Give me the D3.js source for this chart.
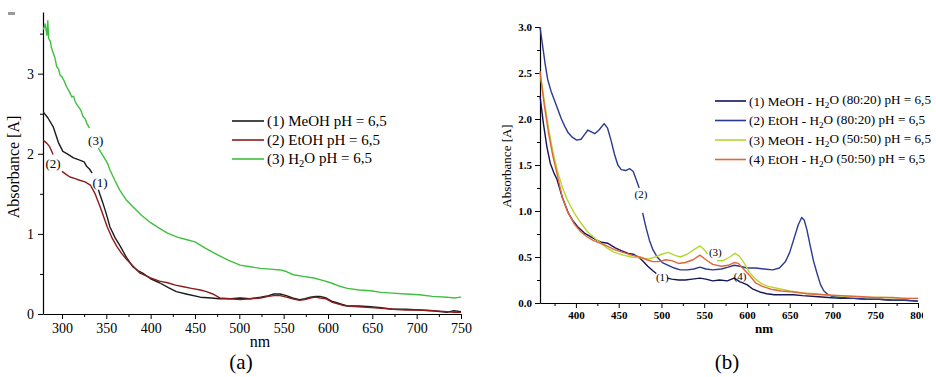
<!DOCTYPE html>
<html>
<head>
<meta charset="utf-8">
<script src="https://cdn.jsdelivr.net/npm/d3@7"></script>
<style>
  body { margin: 0; background: #fff; }
  svg text { font-family: "Liberation Serif", "Times New Roman", Times, serif !important; fill: #000; }
  .axis path, .axis line { stroke: #000; }
</style>
</head>
<body>
<svg id="chart" width="936" height="377"></svg>
<script>
// ---- panel (a) data ----
const nmA1 = [279, 284, 290, 296, 301, 306, 313, 320, 325, 328, 331, 334, null, 341, 346, 350, 354, 360, 366, 373, 380, 386, 391, 400, 410, 420, 429, 440, 456, 468, 478, 490, 501, 512, 524, 533, 539, 546, 553, 560, 568, 574, 580, 586, 591, 598, 604, 610, 616, 622, 635, 648, 660, 673, 688, 703, 718, 734, 742, 750];
const absA1 = [2.52, 2.45, 2.34, 2.14, 2.03, 2.0, 1.95, 1.92, 1.9, 1.84, 1.81, 1.76, null, 1.55, 1.39, 1.25, 1.09, 0.95, 0.84, 0.7, 0.59, 0.54, 0.51, 0.44, 0.39, 0.33, 0.28, 0.25, 0.21, 0.2, 0.19, 0.19, 0.2, 0.19, 0.21, 0.23, 0.25, 0.25, 0.23, 0.2, 0.18, 0.19, 0.21, 0.22, 0.22, 0.2, 0.16, 0.14, 0.12, 0.1, 0.1, 0.09, 0.08, 0.06, 0.06, 0.05, 0.04, 0.02, 0.04, 0.03];

const nmA2 = [279, 283, 286, 290, null, 300, 305, 309, 315, 320, 326, 332, 337, 343, 351, 356, 362, 367, 373, 380, 388, 400, 410, 419, 428, 437, 446, 456, 463, 470, 478, 490, 501, 512, 524, 533, 539, 546, 553, 560, 568, 574, 580, 586, 591, 598, 604, 610, 616, 622, 635, 648, 660, 673, 688, 703, 718, 734, 742, 750];
const absA2 = [2.17, 2.13, 2.09, 1.99, null, 1.78, 1.74, 1.71, 1.69, 1.67, 1.65, 1.61, 1.51, 1.34, 1.09, 0.96, 0.84, 0.76, 0.68, 0.6, 0.51, 0.45, 0.41, 0.39, 0.36, 0.34, 0.32, 0.3, 0.28, 0.25, 0.2, 0.19, 0.18, 0.19, 0.2, 0.22, 0.23, 0.23, 0.21, 0.19, 0.17, 0.18, 0.2, 0.21, 0.2, 0.19, 0.15, 0.13, 0.11, 0.1, 0.09, 0.08, 0.07, 0.06, 0.05, 0.05, 0.04, 0.03, 0.02, 0.02];

const nmA3 = [279, 281, 283, 284, 285, 287, 288, 290, 292, 294, 296, 298, 300, 302, 305, 307, 309, 311, 313, 315, 317, 319, 321, 324, 326, 328, 331, null, 341, 346, 351, 354, 360, 365, 372, 380, 390, 400, 410, 419, 430, 440, 450, 462, 475, 488, 501, 512, 524, 535, 546, 553, 561, 572, 584, 594, 603, 612, 622, 635, 648, 660, 673, 688, 703, 718, 734, 742, 750];
const absA3 = [3.55, 3.62, 3.48, 3.66, 3.44, 3.4, 3.33, 3.26, 3.2, 3.09, 3.06, 2.98, 2.96, 2.92, 2.84, 2.8, 2.76, 2.71, 2.72, 2.65, 2.61, 2.58, 2.55, 2.46, 2.44, 2.38, 2.32, null, 2.07, 1.98, 1.89, 1.8, 1.66, 1.55, 1.43, 1.34, 1.23, 1.14, 1.07, 1.01, 0.96, 0.93, 0.9, 0.82, 0.74, 0.67, 0.61, 0.59, 0.57, 0.56, 0.55, 0.53, 0.49, 0.47, 0.45, 0.42, 0.39, 0.35, 0.32, 0.3, 0.29, 0.27, 0.26, 0.25, 0.24, 0.22, 0.21, 0.2, 0.21];

const seriesA = ['(1) MeOH pH = 6,5', '(2) EtOH pH = 6,5', '(3) H|2|O pH = 6,5'];
const colorsA = ['#1c1c1c', '#8c1c1c', '#3fbf3f'];
const tagsA = ['(1)', '(2)', '(3)'];
const tagNmA = [343, 290, 338];
const tagAbsA = [1.64, 1.875, 2.17];
const xTicksA = [300, 350, 400, 450, 500, 550, 600, 650, 700, 750];
const xMinorA = [325, 375, 425, 475, 525, 575, 625, 675, 725];
const yTicksA = [0, 1, 2, 3];
const yMinorA = [0.5, 1.5, 2.5, 3.5];

// ---- panel (b) data ----
const nmB1 = [358, 362, 366, 370, 374, 378, 384, 391, 396, 402, 410, 419, 425, 430, 437, 446, 453, 461, 467, 473, 478, 484, 490, 494, null, 507, 512, 520, 528, 536, 545, 552, 560, 568, 577, 585, 592, 600, 607, 615, 623, 632, 640, 654, 665, 680, 695, 710, 725, 740, 755, 770, 785, 800];
const absB1 = [2.25, 1.95, 1.7, 1.52, 1.42, 1.34, 1.15, 0.98, 0.9, 0.83, 0.76, 0.71, 0.68, 0.66, 0.65, 0.6, 0.57, 0.54, 0.53, 0.5, 0.46, 0.4, 0.35, 0.32, null, 0.27, 0.26, 0.25, 0.25, 0.26, 0.27, 0.26, 0.24, 0.25, 0.24, 0.27, 0.23, 0.2, 0.15, 0.12, 0.1, 0.09, 0.09, 0.09, 0.08, 0.07, 0.06, 0.05, 0.05, 0.04, 0.04, 0.03, 0.03, 0.02];

const nmB2 = [358, 361, 364, 367, 371, 375, 379, 383, 387, 391, 396, 401, 406, 410, 414, 418, 422, 427, 433, 437, 441, 445, 449, 453, 458, 463, 467, 471, 474, null, 478, 482, 486, 490, 495, 501, 508, 515, 522, 530, 538, 545, 552, 560, 570, 578, 585, 592, 600, 610, 620, 630, 638, 645, 650, 655, 660, 664, 667, 670, 674, 678, 682, 686, 690, 695, 700, 710, 725, 740, 755, 770, 785, 800];
const absB2 = [3.0, 2.8, 2.6, 2.43, 2.3, 2.2, 2.1, 2.0, 1.92, 1.85, 1.8, 1.77, 1.78, 1.83, 1.88, 1.86, 1.84, 1.88, 1.95, 1.9, 1.77, 1.62, 1.5, 1.45, 1.44, 1.46, 1.43, 1.33, 1.25, null, 0.98, 0.82, 0.68, 0.58, 0.5, 0.44, 0.41, 0.38, 0.36, 0.36, 0.37, 0.39, 0.37, 0.36, 0.37, 0.39, 0.41, 0.4, 0.38, 0.38, 0.37, 0.36, 0.38, 0.45, 0.55, 0.7, 0.85, 0.93, 0.9, 0.8, 0.62, 0.45, 0.32, 0.2, 0.13, 0.09, 0.07, 0.06, 0.05, 0.04, 0.04, 0.03, 0.03, 0.02];

const nmB3 = [358, 363, 368, 373, 378, 384, 390, 398, 405, 413, 420, 428, 436, 445, 455, 465, 475, 485, 493, 500, 508, 515, 522, 530, 538, 545, 550, 554, null, 565, 572, 580, 586, 591, 597, 603, 610, 617, 625, 635, 650, 665, 680, 700, 720, 740, 760, 780, 800];
const absB3 = [2.5, 2.2, 1.9, 1.65, 1.45, 1.26, 1.12, 0.98, 0.88, 0.78, 0.72, 0.66, 0.6, 0.55, 0.52, 0.5, 0.49, 0.48, 0.5, 0.53, 0.55, 0.52, 0.5, 0.53, 0.58, 0.62, 0.58, 0.53, null, 0.46, 0.46, 0.5, 0.54, 0.51, 0.43, 0.33, 0.26, 0.21, 0.18, 0.16, 0.13, 0.11, 0.1, 0.08, 0.07, 0.06, 0.06, 0.05, 0.05];

const nmB4 = [358, 363, 368, 373, 378, 384, 390, 398, 405, 413, 420, 428, 436, 445, 455, 465, 475, 483, 490, 497, 505, 512, 520, 528, 537, 545, 552, 560, 570, 578, 585, 590, 596, 603, 610, 618, 628, 640, 655, 670, 690, 710, 730, 750, 770, 785, 800];
const absB4 = [2.52, 2.15, 1.85, 1.6, 1.4, 1.15, 1.0, 0.86, 0.78, 0.72, 0.68, 0.65, 0.62, 0.58, 0.55, 0.52, 0.5, 0.47, 0.45, 0.45, 0.47, 0.46, 0.43, 0.44, 0.47, 0.52, 0.47, 0.42, 0.4, 0.41, 0.44, 0.43, 0.37, 0.3, 0.22, 0.18, 0.15, 0.13, 0.12, 0.1, 0.09, 0.08, 0.07, 0.06, 0.06, 0.05, 0.05];

const seriesB = ['(1) MeOH - H|2|O (80:20) pH = 6,5', '(2) EtOH - H|2|O (80:20) pH = 6,5', '(3) MeOH - H|2|O (50:50) pH = 6,5', '(4) EtOH - H|2|O (50:50) pH = 6,5'];
const colorsB = ['#15155a', '#2a3a92', '#b6d632', '#e2663a'];
const tagsB = ['(1)', '(2)', '(3)', '(4)'];
const tagNmB = [501, 476, 563, 592];
const tagAbsB = [0.28, 1.18, 0.55, 0.29];
const xTicksB = [400, 450, 500, 550, 600, 650, 700, 750, 800];
const xMinorB = [375, 425, 475, 525, 575, 625, 675, 725, 775];
const yTicksB = [0, 0.5, 1, 1.5, 2, 2.5, 3];
const yMinorB = [0.25, 0.75, 1.25, 1.75, 2.25, 2.75];

const svg = d3.select('#chart');

function toPoints(nm, abs) {
  return nm.map((d, i) => ({ x: d, y: abs[i] }));
}

// writes "H|2|O" style text with subscript
function richText(sel, str) {
  str.split('|').forEach((part, i) => {
    const t = sel.append('tspan').text(part);
    if (i % 2 === 1) t.attr('font-size', '0.7em').attr('dy', '0.3em');
    else if (i > 0) t.attr('dy', '-0.3em');
  });
}

function drawPanel(cfg) {
  const g = svg.append('g');

  const line = d3.line()
    .defined(d => d.y !== null)
    .x(d => cfg.x(d.x))
    .y(d => cfg.y(d.y));

  // x axis
  const xAxis = g.append('g')
    .attr('class', 'axis')
    .attr('transform', `translate(0,${cfg.y(0)})`)
    .call(d3.axisBottom(cfg.x).tickValues(cfg.xTicks).tickSize(5).tickSizeOuter(0).tickPadding(cfg.tickPad).tickFormat(d3.format('d')));
  g.append('g')
    .attr('class', 'axis')
    .attr('transform', `translate(0,${cfg.y(0)})`)
    .call(d3.axisBottom(cfg.x).tickValues(cfg.xMinor).tickSize(3).tickSizeOuter(0).tickFormat(''))
    .select('.domain').remove();

  // y axis
  g.append('g')
    .attr('class', 'axis')
    .attr('transform', `translate(${cfg.x.range()[0]},0)`)
    .call(d3.axisLeft(cfg.y).tickValues(cfg.yTicks).tickSize(5).tickSizeOuter(0).tickPadding(cfg.tickPad).tickFormat(d3.format(cfg.yFmt)));
  g.append('g')
    .attr('class', 'axis')
    .attr('transform', `translate(${cfg.x.range()[0]},0)`)
    .call(d3.axisLeft(cfg.y).tickValues(cfg.yMinor).tickSize(3).tickSizeOuter(0).tickFormat(''))
    .select('.domain').remove();

  g.selectAll('.axis text')
    .attr('font-size', cfg.tickFont)
    .attr('font-weight', cfg.tickWeight);
  g.selectAll('.axis path.domain').attr('stroke-width', 1.2);

  if (cfg.clipRight) {
    svg.append('clipPath').attr('id', 'clipB')
      .append('rect').attr('x', 0).attr('y', 0).attr('width', cfg.clipRight).attr('height', 377);
    xAxis.attr('clip-path', 'url(#clipB)');
  }

  // curves
  cfg.data.forEach((pts, i) => {
    g.append('path')
      .datum(pts)
      .attr('fill', 'none')
      .attr('stroke', cfg.colors[i])
      .attr('stroke-width', 1.4)
      .attr('stroke-linejoin', 'round')
      .attr('d', line);
  });

  // curve tags
  cfg.tags.forEach((t, i) => {
    g.append('text')
      .attr('x', cfg.x(cfg.tagNm[i]))
      .attr('y', cfg.y(cfg.tagAbs[i]))
      .attr('dy', '0.35em')
      .attr('text-anchor', 'middle')
      .attr('font-size', cfg.tagFont)
      .text(t);
  });

  // axis titles
  g.append('text')
    .attr('transform', `translate(${cfg.yTitle[0]},${cfg.yTitle[1]}) rotate(-90)`)
    .attr('text-anchor', 'middle')
    .attr('font-size', cfg.titleFont)
    .text('Absorbance [A]');
  g.append('text')
    .attr('x', cfg.xTitle[0])
    .attr('y', cfg.xTitle[1])
    .attr('text-anchor', 'middle')
    .attr('font-size', cfg.titleFont)
    .attr('font-weight', cfg.tickWeight)
    .text('nm');
  g.append('text')
    .attr('x', cfg.panel[0])
    .attr('y', cfg.panel[1])
    .attr('text-anchor', 'middle')
    .attr('font-size', 21)
    .text(cfg.panelName);

  // legend
  const legend = g.append('g')
    .attr('transform', `translate(${cfg.legend[0]},${cfg.legend[1]})`);
  cfg.names.forEach((name, i) => {
    const row = legend.append('g').attr('transform', `translate(0,${i * cfg.legendStep})`);
    row.append('line')
      .attr('x1', 0).attr('x2', cfg.legendLine)
      .attr('y1', 0).attr('y2', 0)
      .attr('stroke', cfg.colors[i])
      .attr('stroke-width', 1.6);
    const txt = row.append('text')
      .attr('x', cfg.legendLine + 3)
      .attr('y', 0)
      .attr('dy', '0.35em')
      .attr('font-size', cfg.legendFont);
    richText(txt, name);
  });
}

drawPanel({
  x: d3.scaleLinear().domain([278.6, 750]).range([43, 461]),
  y: d3.scaleLinear().domain([0, 3.77]).range([314, 12]),
  xTicks: xTicksA, xMinor: xMinorA, yTicks: yTicksA, yMinor: yMinorA,
  yFmt: 'd', tickFont: 14, tickWeight: 'normal', tickPad: 4,
  data: [toPoints(nmA1, absA1), toPoints(nmA2, absA2), toPoints(nmA3, absA3)],
  colors: colorsA, names: seriesA,
  tags: tagsA, tagNm: tagNmA, tagAbs: tagAbsA, tagFont: 13,
  yTitle: [19, 167], xTitle: [260, 347], titleFont: 16,
  panel: [241, 369], panelName: '(a)',
  legend: [232, 121], legendStep: 19, legendFont: 15, legendLine: 32
});

drawPanel({
  x: d3.scaleLinear().domain([358, 800]).range([540, 918]),
  y: d3.scaleLinear().domain([0, 3]).range([303, 27]),
  xTicks: xTicksB, xMinor: xMinorB, yTicks: yTicksB, yMinor: yMinorB,
  yFmt: '.1f', tickFont: 11, tickWeight: 'bold', tickPad: 3,
  data: [toPoints(nmB1, absB1), toPoints(nmB2, absB2), toPoints(nmB3, absB3), toPoints(nmB4, absB4)],
  colors: colorsB, names: seriesB,
  tags: tagsB, tagNm: tagNmB, tagAbs: tagAbsB, tagFont: 11,
  yTitle: [511, 166], xTitle: [764, 333], titleFont: 13,
  panel: [727, 369], panelName: '(b)',
  legend: [715, 101], legendStep: 19.5, legendFont: 13.2, legendLine: 31,
  clipRight: 923
});

// small grey mark at top-left corner of panel (a)
svg.append('rect').attr('x', 8).attr('y', 12).attr('width', 7).attr('height', 3).attr('fill', '#9a9a9a');
</script>
</body>
</html>
